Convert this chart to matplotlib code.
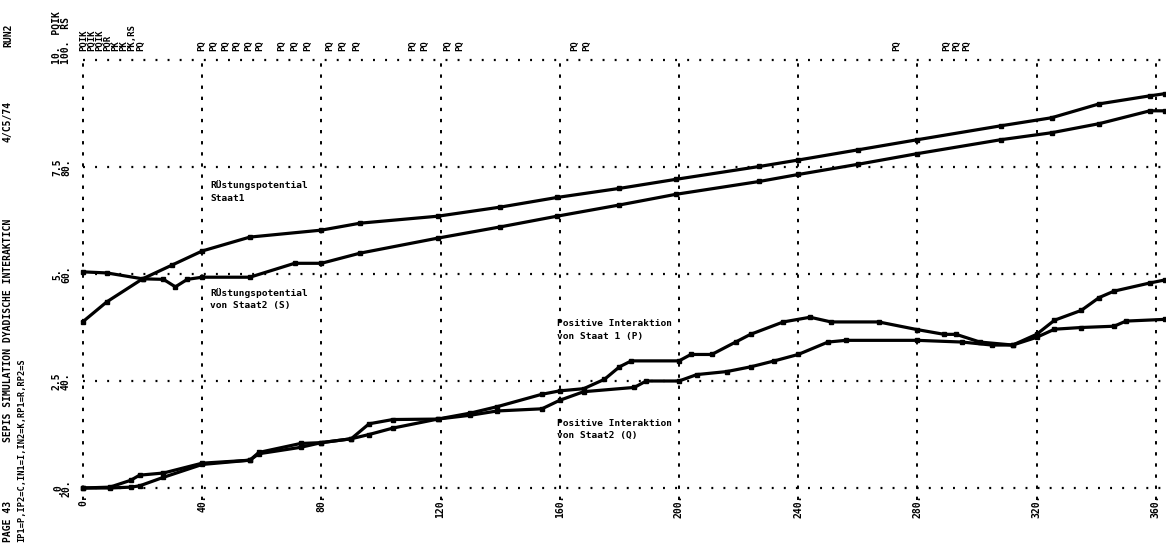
import matplotlib
matplotlib.use("Agg")
import matplotlib.pyplot as plt

plt.rcParams['lines.scale_dashes'] = False

# time axis ticks
x_ticks = [0, 40, 80, 120, 160, 200, 240, 280, 320, 360]
x_tick_labels = ["0.", "40.", "80.", "120.", "160.", "200.", "240.", "280.", "320.", "360."]

# left scale labels (PQ scale / RS scale)
pq_ticks = [0, 2.5, 5, 7.5, 10]
pq_labels = [".0", "2.5", "5.", "7.5", "10.  PQIK"]
rs_labels = ["20.", "40.", "60.", "80.", "100.  RS"]

# Ruestungspotential Staat1 (R), RS scale
r_x = [0, 8, 20, 30, 40, 56, 80, 93, 119, 140, 159, 180, 199, 227, 240, 260, 280,
       308, 325, 341, 358, 363]
r_val = [51.1, 54.8, 59.1, 61.7, 64.3, 66.9, 68.2, 69.5, 70.8, 72.5, 74.3, 76.0,
         77.7, 80.1, 81.3, 83.2, 85.1, 87.7, 89.2, 91.8, 93.3, 93.7]

# Ruestungspotential Staat2 (S), RS scale
s_x = [0, 8, 20, 27, 31, 35, 40, 56, 71, 80, 93, 119, 140, 159, 180, 199, 227, 240,
       260, 280, 308, 325, 341, 358, 363]
s_val = [60.4, 60.2, 59.1, 59.0, 57.6, 59.0, 59.4, 59.4, 62.0, 62.0, 63.9, 66.7,
         68.8, 70.8, 72.9, 74.9, 77.3, 78.6, 80.5, 82.5, 85.1, 86.4, 88.1, 90.5, 90.5]

# Positive Interaktion Staat 1 (P), PQ scale
p_x = [0, 9, 16, 19, 27, 40, 56, 59, 73, 80, 90, 96, 104, 119, 130, 139, 154, 160,
       168, 175, 180, 184, 200, 204, 211, 219, 224, 235, 244, 251, 267, 280, 289,
       293, 301, 312, 320, 326, 335, 341, 346, 358, 363]
p_val = [0, 0.02, 0.18, 0.3, 0.35, 0.58, 0.65, 0.83, 1.04, 1.06, 1.15, 1.5, 1.6,
         1.61, 1.75, 1.9, 2.19, 2.27, 2.32, 2.54, 2.83, 2.97, 2.97, 3.12, 3.12, 3.41,
         3.59, 3.88, 3.99, 3.88, 3.88, 3.70, 3.59, 3.59, 3.41, 3.34, 3.59, 3.92,
         4.15, 4.45, 4.6, 4.79, 4.86]

# Positive Interaktion Staat2 (Q), PQ scale
q_x = [0, 9, 16, 19, 27, 40, 56, 59, 73, 80, 90, 96, 104, 119, 130, 139, 154, 160,
       168, 185, 189, 200, 206, 216, 224, 232, 240, 250, 256, 280, 295, 305, 312,
       320, 326, 335, 346, 350, 363]
q_val = [0, 0, 0.02, 0.05, 0.25, 0.55, 0.65, 0.8, 0.95, 1.06, 1.15, 1.25, 1.4, 1.61,
         1.7, 1.8, 1.85, 2.05, 2.25, 2.35, 2.5, 2.5, 2.65, 2.72, 2.83, 2.97, 3.12,
         3.41, 3.45, 3.45, 3.41, 3.34, 3.34, 3.52, 3.71, 3.75, 3.78, 3.9, 3.94]

# overlapping-symbol marks printed above the frame
top_x = [0.3, 3, 5.7, 8.4, 11.1, 13.8, 16.4, 19.5,
         39.9, 43.9, 47.9, 51.5, 55.7, 59.4,
         66.8, 71.1, 75.5, 82.9, 87.2, 91.9,
         110.7, 114.8, 122.5, 126.5, 165.1, 169.1, 273.2, 289.9, 293.3, 296.6]
top_txt = ["PQIK", "PQIK", "PQIK", "PQR", "PK", "PK", "PK,RS", "PQ",
           "PQ", "PQ", "PQ", "PQ", "PQ", "PQ",
           "PQ", "PQ", "PQ", "PQ", "PQ", "PQ",
           "PQ", "PQ", "PQ", "PQ", "PQ", "PQ", "PQ", "PQ", "PQ", "PQ"]

W, H = 1166, 547
fig = plt.figure(figsize=(W / 100, H / 100), dpi=100)
ax = fig.add_axes([83 / W, 59 / H, 1083 / W, 428 / H])
xmax = 1083 / 2.98
ax.set_xlim(0, xmax)
ax.set_ylim(0, 10)
ax.axis('off')
ax2 = ax.twinx()
ax2.set_xlim(0, xmax)
ax2.set_ylim(20, 100)
ax2.axis('off')

mono = dict(family='DejaVu Sans Mono', weight='bold', color='black')

# grid
for v in pq_ticks:
    ax.plot([0, xmax], [v, v], color='black', lw=1.6,
            linestyle=(0, (1.4, 7.3)), zorder=1, clip_on=False)
for t in x_ticks:
    ax.plot([t, t], [-0.28, 10], color='black', lw=1.4,
            linestyle=(0, (2.4, 5.6)), zorder=1, clip_on=False)

# curves
ax2.plot(r_x, r_val, color='black', lw=2.3, marker='s', ms=3, zorder=3, clip_on=False)
ax2.plot(s_x, s_val, color='black', lw=2.3, marker='s', ms=3, zorder=3, clip_on=False)
ax.plot(p_x, p_val, color='black', lw=2.3, marker='s', ms=3, zorder=3, clip_on=False)
ax.plot(q_x, q_val, color='black', lw=2.3, marker='s', ms=3, zorder=3, clip_on=False)

# x tick labels
for t, lab in zip(x_ticks, x_tick_labels):
    ax.text(t, -0.15, lab, rotation=90, ha='center', va='top', fontsize=7, **mono)

# left scale labels
for v, lab, lab2 in zip(pq_ticks, pq_labels, rs_labels):
    if v < 10:
        ax.text(-26 / 2.98, v, lab, rotation=90, ha='center', va='center', fontsize=7, **mono)
        ax.text(-17 / 2.98, v, lab2, rotation=90, ha='center', va='center', fontsize=7, **mono)
    else:
        ax.text(-26 / 2.98, v - 0.1, lab, rotation=90, ha='center', va='bottom', fontsize=7, **mono)
        ax.text(-17 / 2.98, v - 0.1, lab2, rotation=90, ha='center', va='bottom', fontsize=7, **mono)

# symbol marks above the frame
for t, lab in zip(top_x, top_txt):
    ax.text(t, 10.2, lab, rotation=90, ha='center', va='bottom', fontsize=6.5, **mono)

# curve annotations
fig.text(210 / W, 1 - 203 / H, "RÜstungspotential\nStaat1", fontsize=6.8,
         linespacing=1.5, ha='left', va='bottom', **mono)
fig.text(210 / W, 1 - 310 / H, "RÜstungspotential\nvon Staat2 (S)", fontsize=6.8,
         linespacing=1.5, ha='left', va='bottom', **mono)
fig.text(557 / W, 1 - 341 / H, "Positive Interaktion\nvon Staat 1 (P)", fontsize=6.8,
         linespacing=1.5, ha='left', va='bottom', **mono)
fig.text(557 / W, 1 - 440 / H, "Positive Interaktion\nvon Staat2 (Q)", fontsize=6.8,
         linespacing=1.5, ha='left', va='bottom', **mono)

# page header printed along the left edge
fig.text(8 / W, 1 - 542 / H, "PAGE 43", rotation=90, ha='center', va='bottom',
         fontsize=7, **mono)
fig.text(8 / W, 1 - 442 / H, "SEPIS SIMULATION DYADISCHE INTERAKTICN", rotation=90,
         ha='center', va='bottom', fontsize=7, **mono)
fig.text(8 / W, 1 - 142 / H, "4/C5/74", rotation=90, ha='center', va='bottom',
         fontsize=7, **mono)
fig.text(8 / W, 1 - 47 / H, "RUN2", rotation=90, ha='center', va='bottom',
         fontsize=7, **mono)
fig.text(22 / W, 1 - 542 / H, "IP1=P,IP2=C,IN1=I,IN2=K,RP1=R,RP2=S", rotation=90,
         ha='center', va='bottom', fontsize=6.2, **mono)

fig.savefig("out.png", dpi=100)
